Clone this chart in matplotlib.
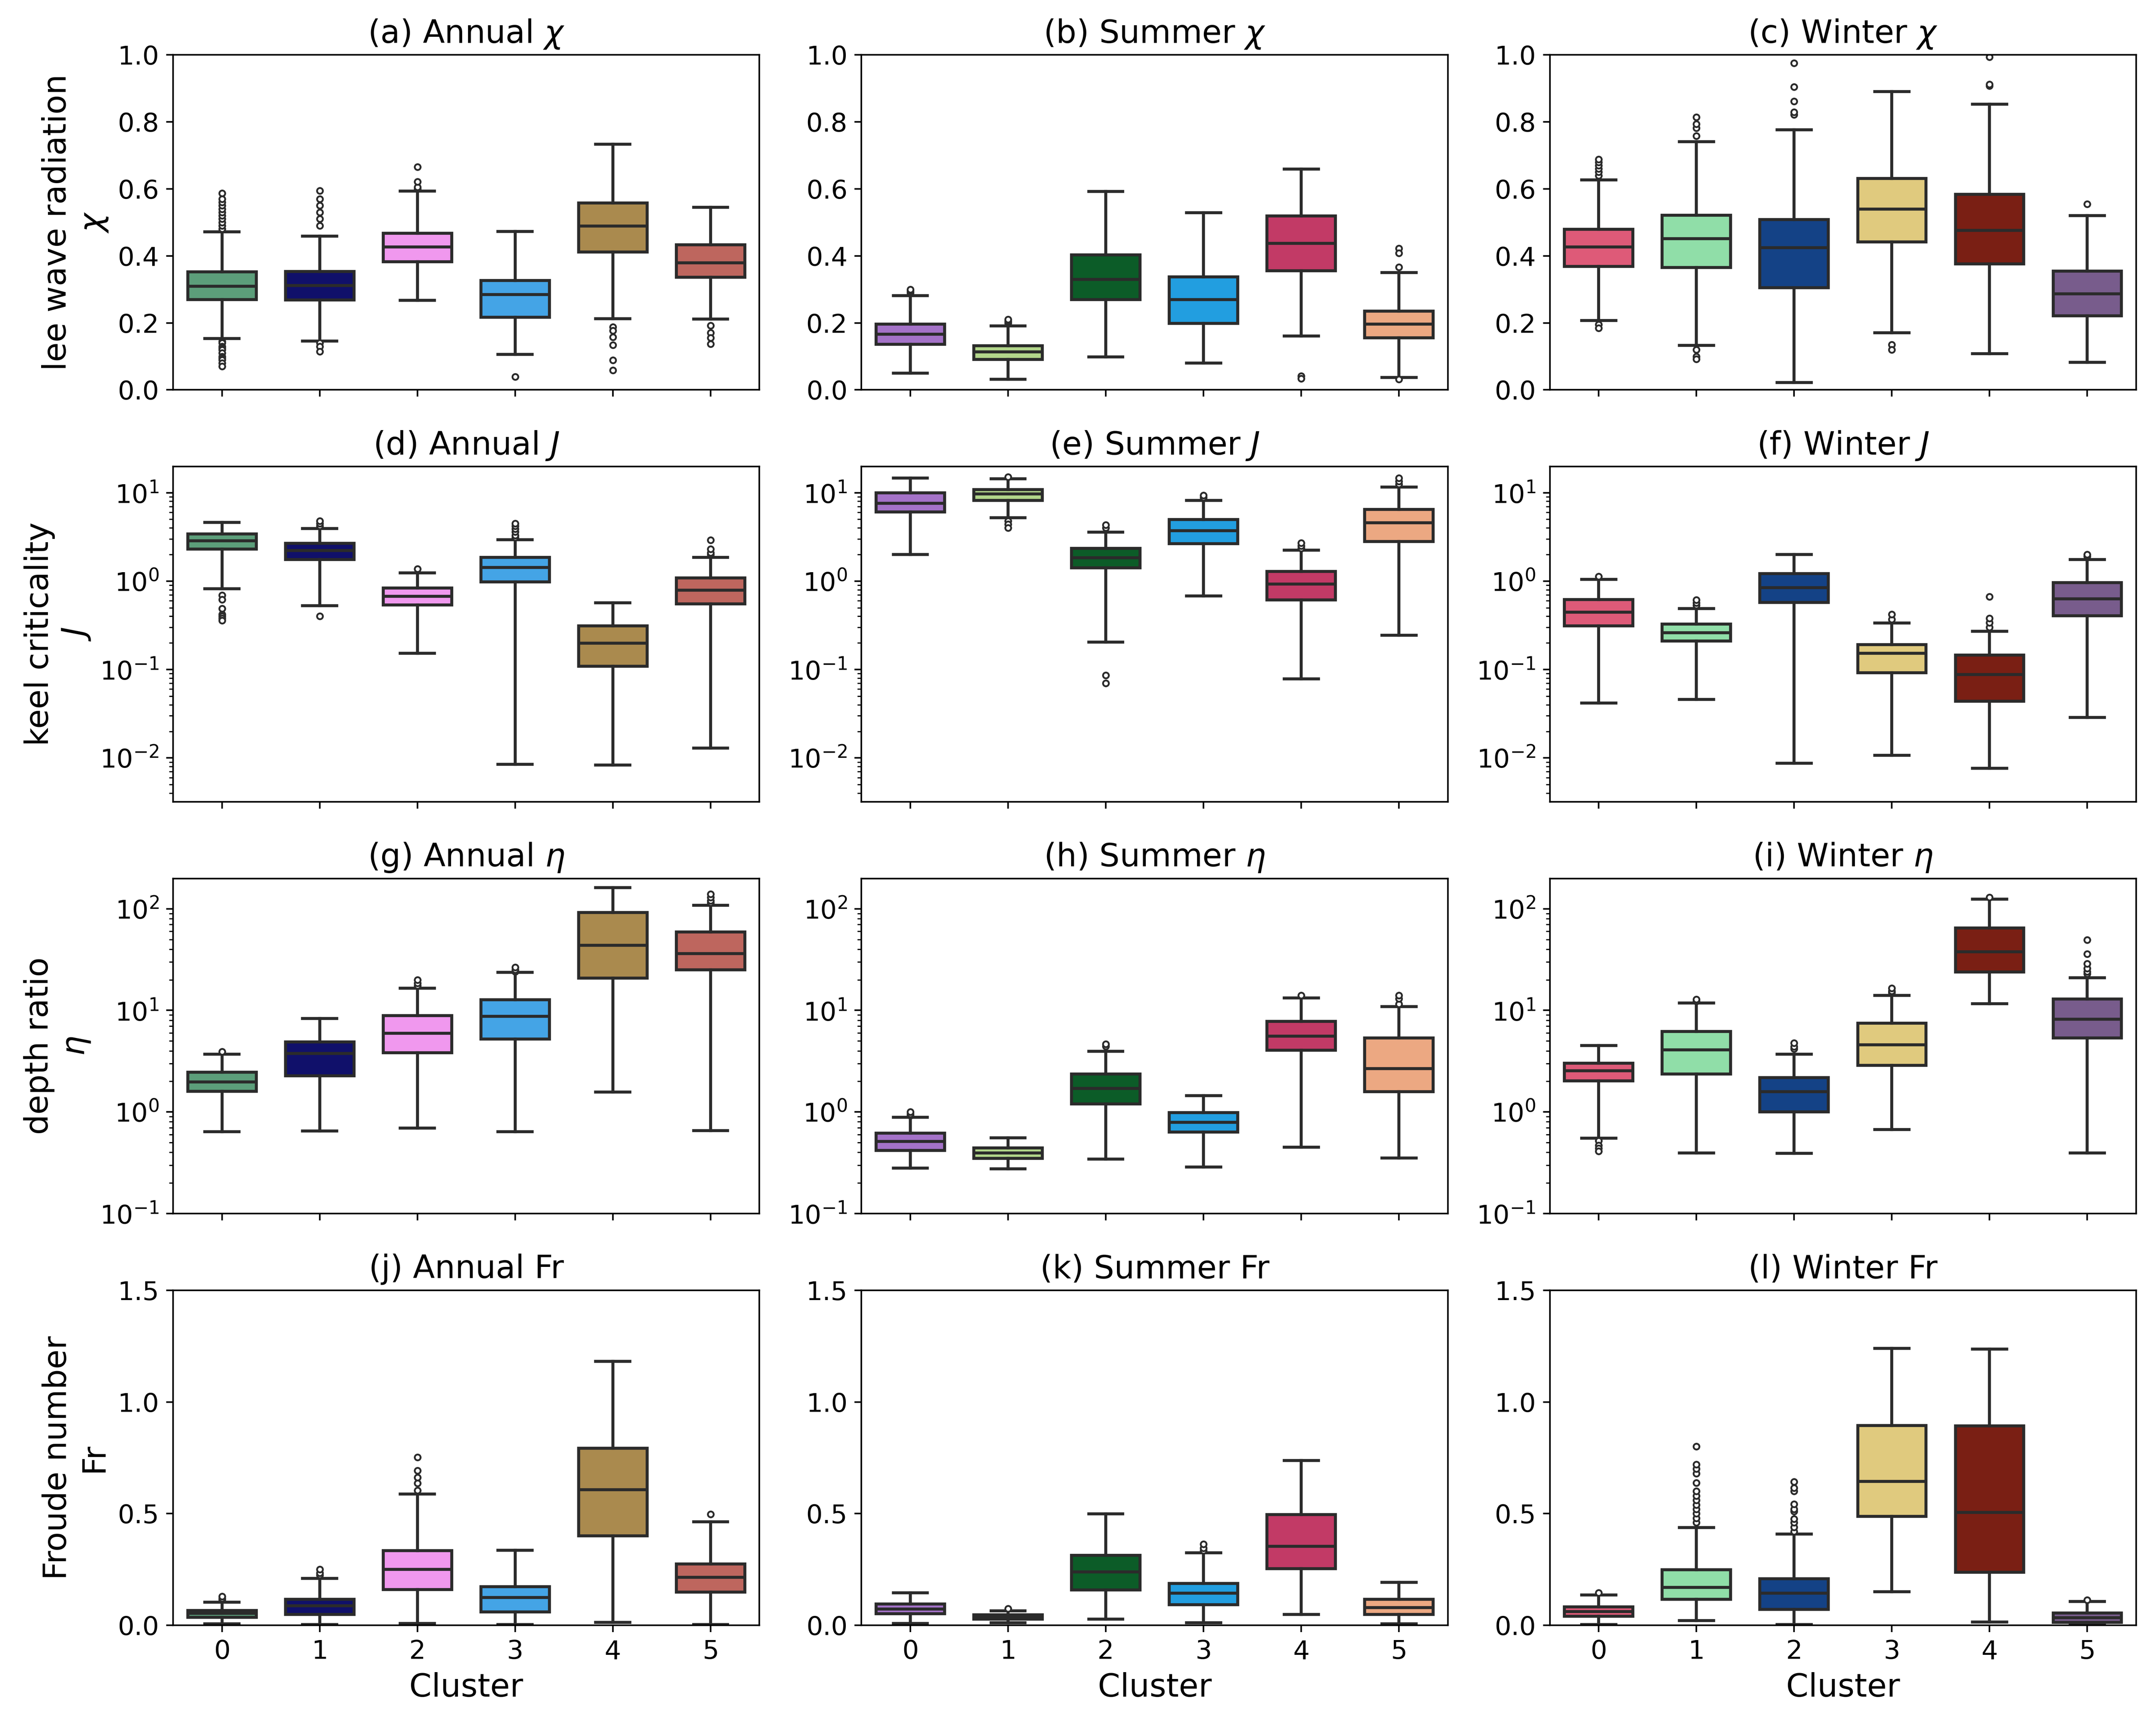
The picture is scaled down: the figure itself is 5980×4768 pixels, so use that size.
import matplotlib
matplotlib.use("Agg")
import matplotlib.pyplot as plt

# ---------------- data ----------------
clusters = [0, 1, 2, 3, 4, 5]
seasons = ["Annual", "Summer", "Winter"]

annual_colors = ["#5c9e7a", "#10106a", "#f098ee", "#44a4e6", "#aa8a4e", "#be665e"]
summer_colors = ["#a472c8", "#b2d68a", "#0c5c28", "#229ee0", "#c23a66", "#eca882"]
winter_colors = ["#de5a78", "#90dea8", "#144286", "#e0ca7e", "#7a1f14", "#785c8c"]

# stats per cluster: [whislo, q1, median, q3, whishi]
chi_annual = [[0.153, 0.270, 0.309, 0.352, 0.472],
              [0.146, 0.268, 0.311, 0.353, 0.459],
              [0.267, 0.382, 0.427, 0.468, 0.593],
              [0.106, 0.217, 0.285, 0.327, 0.473],
              [0.212, 0.412, 0.489, 0.558, 0.733],
              [0.211, 0.336, 0.379, 0.433, 0.545]]
chi_annual_fl = [[0.48, 0.49, 0.50, 0.51, 0.52, 0.53, 0.54, 0.55, 0.56, 0.57, 0.587,
                  0.145, 0.14, 0.13, 0.125, 0.12, 0.11, 0.10, 0.095, 0.09, 0.08, 0.071],
                 [0.49, 0.51, 0.53, 0.55, 0.57, 0.595, 0.14, 0.13, 0.115],
                 [0.60, 0.605, 0.621, 0.665],
                 [0.039],
                 [0.188, 0.177, 0.158, 0.134, 0.089, 0.059],
                 [0.192, 0.171, 0.155, 0.137]]

chi_summer = [[0.050, 0.136, 0.166, 0.196, 0.281],
              [0.032, 0.091, 0.114, 0.132, 0.191],
              [0.098, 0.270, 0.330, 0.403, 0.592],
              [0.080, 0.199, 0.269, 0.337, 0.529],
              [0.161, 0.356, 0.437, 0.519, 0.659],
              [0.037, 0.155, 0.196, 0.235, 0.350]]
chi_summer_fl = [[0.29, 0.295, 0.30],
                 [0.20, 0.205, 0.21],
                 [],
                 [],
                 [0.041, 0.034],
                 [0.422, 0.408, 0.366, 0.032]]

chi_winter = [[0.207, 0.369, 0.427, 0.479, 0.627],
              [0.133, 0.365, 0.451, 0.521, 0.741],
              [0.022, 0.305, 0.424, 0.508, 0.776],
              [0.171, 0.442, 0.540, 0.631, 0.890],
              [0.108, 0.376, 0.476, 0.584, 0.853],
              [0.082, 0.221, 0.287, 0.354, 0.520]]
chi_winter_fl = [[0.64, 0.65, 0.66, 0.67, 0.68, 0.688, 0.195, 0.185],
                 [0.758, 0.782, 0.793, 0.814, 0.12, 0.099, 0.092],
                 [0.822, 0.829, 0.861, 0.904, 0.975],
                 [0.135, 0.12],
                 [0.908, 0.912, 0.994],
                 [0.555]]

J_annual = [[0.816, 2.30, 2.85, 3.43, 4.63],
            [0.527, 1.75, 2.22, 2.67, 3.94],
            [0.152, 0.537, 0.67, 0.836, 1.24],
            [0.0085, 0.976, 1.43, 1.85, 2.94],
            [0.0083, 0.109, 0.199, 0.311, 0.57],
            [0.0129, 0.553, 0.787, 1.09, 1.86]]
J_annual_fl = [[0.69, 0.62, 0.49, 0.42, 0.40, 0.38, 0.36],
               [4.2, 4.5, 4.8, 0.40],
               [1.37],
               [3.1, 3.3, 3.6, 3.9, 4.2, 4.5],
               [],
               [2.0, 2.1, 2.3, 2.9]]

J_summer = [[2.0, 6.07, 7.6, 10.0, 14.7],
            [5.2, 8.2, 9.7, 10.8, 14.4],
            [0.205, 1.41, 1.84, 2.34, 3.58],
            [0.68, 2.64, 3.73, 4.95, 8.18],
            [0.0785, 0.61, 0.93, 1.29, 2.24],
            [0.243, 2.8, 4.58, 6.44, 11.6]]
J_summer_fl = [[],
               [15.0, 4.8, 4.4, 4.0],
               [4.0, 4.3, 0.086, 0.070],
               [8.8, 9.3],
               [2.35, 2.5, 2.7],
               [12.5, 13.5, 14.6]]

J_winter = [[0.0416, 0.311, 0.446, 0.62, 1.05],
            [0.046, 0.211, 0.261, 0.327, 0.49],
            [0.0087, 0.576, 0.846, 1.22, 2.0],
            [0.0107, 0.0916, 0.153, 0.191, 0.336],
            [0.00764, 0.0439, 0.0874, 0.146, 0.271],
            [0.0287, 0.407, 0.63, 0.96, 1.75]]
J_winter_fl = [[1.13],
               [0.53, 0.57, 0.61],
               [],
               [0.37, 0.42],
               [0.30, 0.34, 0.38, 0.666],
               [1.9, 2.0]]

eta_annual = [[0.64, 1.60, 1.98, 2.47, 3.71],
              [0.65, 2.26, 3.77, 4.89, 8.32],
              [0.695, 3.83, 5.93, 8.86, 16.5],
              [0.64, 5.24, 8.73, 12.7, 23.6],
              [1.57, 20.7, 43.6, 91.7, 161.0],
              [0.656, 25.1, 36.3, 58.9, 108.0]]
eta_annual_fl = [[3.93],
                 [],
                 [17.5, 18.5, 20.0],
                 [24.0, 25.0, 26.5],
                 [],
                 [115.0, 120.0, 130.0, 140.0]]

eta_summer = [[0.281, 0.417, 0.514, 0.616, 0.883],
              [0.275, 0.348, 0.396, 0.442, 0.558],
              [0.342, 1.20, 1.70, 2.36, 3.95],
              [0.288, 0.636, 0.791, 0.985, 1.45],
              [0.451, 4.04, 5.57, 7.78, 13.2],
              [0.353, 1.58, 2.68, 5.35, 10.9]]
eta_summer_fl = [[0.92, 0.95, 1.0],
                 [],
                 [4.45, 4.65],
                 [],
                 [14.0],
                 [11.5, 13.0, 14.0]]

eta_winter = [[0.552, 2.02, 2.55, 3.03, 4.50],
              [0.394, 2.36, 4.08, 6.18, 11.8],
              [0.392, 1.0, 1.58, 2.18, 3.71],
              [0.673, 2.88, 4.57, 7.46, 14.0],
              [11.6, 23.8, 37.7, 64.7, 124.0],
              [0.394, 5.35, 8.19, 12.9, 21.0]]
eta_winter_fl = [[0.52, 0.47, 0.44, 0.41],
                 [12.3, 12.8],
                 [4.2, 4.4, 4.76],
                 [15.0, 15.5, 16.5],
                 [130.0],
                 [23.0, 24.0, 26.0, 28.7, 35.8, 49.6]]

Fr_annual = [[0.0065, 0.036, 0.053, 0.066, 0.104],
             [0.003, 0.048, 0.087, 0.117, 0.210],
             [0.008, 0.160, 0.250, 0.334, 0.588],
             [0.003, 0.060, 0.124, 0.173, 0.336],
             [0.013, 0.401, 0.607, 0.792, 1.182],
             [0.004, 0.149, 0.215, 0.275, 0.463]]
Fr_annual_fl = [[0.115, 0.12, 0.13],
                [0.225, 0.235, 0.25],
                [0.604, 0.636, 0.662, 0.693, 0.753],
                [],
                [],
                [0.497]]

Fr_summer = [[0.009, 0.052, 0.073, 0.095, 0.146],
             [0.011, 0.027, 0.037, 0.047, 0.065],
             [0.027, 0.158, 0.239, 0.313, 0.499],
             [0.012, 0.093, 0.144, 0.187, 0.325],
             [0.049, 0.253, 0.353, 0.495, 0.738],
             [0.007, 0.048, 0.080, 0.116, 0.192]]
Fr_summer_fl = [[],
                [0.075],
                [],
                [0.335, 0.345, 0.363],
                [],
                []]

Fr_winter = [[0.003, 0.040, 0.062, 0.083, 0.136],
             [0.021, 0.116, 0.170, 0.248, 0.438],
             [0.003, 0.072, 0.144, 0.209, 0.408],
             [0.150, 0.488, 0.645, 0.894, 1.240],
             [0.014, 0.237, 0.505, 0.892, 1.237],
             [0.003, 0.013, 0.034, 0.055, 0.106]]
Fr_winter_fl = [[0.145],
                [0.46, 0.48, 0.50, 0.52, 0.54, 0.56, 0.58, 0.60, 0.637, 0.68, 0.70, 0.72, 0.80],
                [0.42, 0.44, 0.46, 0.476, 0.51, 0.52, 0.543, 0.60, 0.615, 0.643],
                [],
                [],
                [0.114]]

panel_letters = list("abcdefghijkl")
var_symbols = [r"$\chi$", r"$J$", r"$\eta$", "Fr"]
var_names = ["lee wave radiation", "keel criticality", "depth ratio", "Froude number"]

# ---------------- plotting ----------------
plt.rcParams["font.family"] = ["DejaVu Sans"]
plt.rcParams["mathtext.fontset"] = "dejavusans"

fig, axes = plt.subplots(4, 3, figsize=(14.95, 11.92), dpi=400, sharex=True)
fig.subplots_adjust(left=0.0803, right=0.9908, top=0.9681, bottom=0.0545,
                    wspace=0.174, hspace=0.229)

stats_grid = [[chi_annual, chi_summer, chi_winter],
              [J_annual, J_summer, J_winter],
              [eta_annual, eta_summer, eta_winter],
              [Fr_annual, Fr_summer, Fr_winter]]
fliers_grid = [[chi_annual_fl, chi_summer_fl, chi_winter_fl],
               [J_annual_fl, J_summer_fl, J_winter_fl],
               [eta_annual_fl, eta_summer_fl, eta_winter_fl],
               [Fr_annual_fl, Fr_summer_fl, Fr_winter_fl]]
palettes = [annual_colors, summer_colors, winter_colors]

line_c = "#2b2b2b"
lw = 1.5

for r in range(4):
    for c in range(3):
        ax = axes[r, c]
        if r in (1, 2):
            ax.set_yscale("log")
        bstats = []
        for k, s in enumerate(stats_grid[r][c]):
            bstats.append(dict(whislo=s[0], q1=s[1], med=s[2], q3=s[3], whishi=s[4],
                               fliers=fliers_grid[r][c][k]))
        res = ax.bxp(bstats, positions=clusters, widths=0.7, patch_artist=True,
                     showfliers=True,
                     boxprops=dict(edgecolor=line_c, linewidth=lw),
                     medianprops=dict(color=line_c, linewidth=lw),
                     whiskerprops=dict(color=line_c, linewidth=lw),
                     capprops=dict(color=line_c, linewidth=lw),
                     flierprops=dict(marker="o", markersize=2.9, markerfacecolor="white",
                                     markeredgecolor=line_c, markeredgewidth=0.9,
                                     linestyle="none"))
        for patch, col in zip(res["boxes"], palettes[c]):
            patch.set_facecolor(col)
        ax.set_xlim(-0.5, 5.5)
        ax.set_xticks(clusters)
        ax.set_xticklabels([str(x) for x in clusters])
        idx = r * 3 + c
        ax.set_title(f"({panel_letters[idx]}) {seasons[c]} {var_symbols[r]}", fontsize=16)
        ax.tick_params(axis="both", labelsize=13)
        if r == 0:
            ax.set_ylim(0, 1)
            ax.set_yticks([0, 0.2, 0.4, 0.6, 0.8, 1.0])
        elif r == 1:
            ax.set_ylim(3.2e-3, 19.7)
        elif r == 2:
            ax.set_ylim(0.1, 199)
        else:
            ax.set_ylim(0, 1.5)
            ax.set_yticks([0, 0.5, 1.0, 1.5])
        if c == 0:
            ax.set_ylabel(f"{var_names[r]}\n{var_symbols[r]}", fontsize=16)
        if r == 3:
            ax.set_xlabel("Cluster", fontsize=16)
        else:
            ax.tick_params(axis="x", labelbottom=False)

fig.savefig("out.png", dpi=400)
